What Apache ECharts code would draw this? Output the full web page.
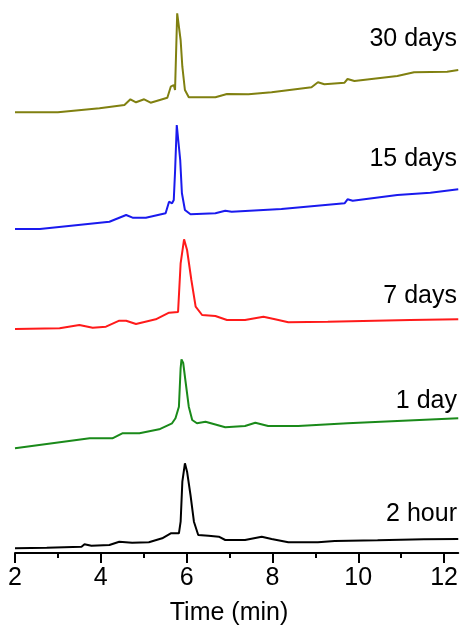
<!DOCTYPE html>
<html>
<head>
<meta charset="utf-8">
<script src="https://cdn.jsdelivr.net/npm/echarts@6/dist/echarts.min.js"></script>
<style>html,body{margin:0;padding:0;background:#fff}#c{width:461px;height:627px}</style>
</head>
<body>
<div id="c"></div>
<script>
// Series labels (bottom to top) and colours
var labels = ['2 hour', '1 day', '7 days', '15 days', '30 days'];
var colors = ['#000000', '#1a8a1a', '#ff1a1a', '#1a1aee', '#808010'];
// vertical stacking offsets (plot units)
var offsets = [4, 104, 224, 324, 440];

// 2 hour
var t2h = [2, 2.74, 3.55, 3.62, 3.78, 4.2, 4.43, 4.73, 5.12, 5.43, 5.63, 5.82, 5.86, 5.9, 5.96, 6.01, 6.09, 6.17, 6.27, 6.51, 6.75, 6.9, 7.36, 7.75, 7.98, 8.37, 9.06, 9.45, 10.45, 11.53, 12.33];
var y2h = [0.7, 1.3, 2.3, 4.7, 3.3, 4, 7.3, 6.3, 6.7, 10.7, 15.7, 15.7, 27.3, 67.3, 85.7, 77.3, 54, 27.3, 14, 13.3, 12.3, 9, 9, 12.3, 10, 6.7, 6.7, 8, 8.7, 9.7, 10];
// 1 day
var t1d = [2, 3.74, 4.27, 4.5, 4.9, 5.36, 5.66, 5.74, 5.78, 5.82, 5.86, 5.88, 5.92, 5.97, 6.05, 6.13, 6.24, 6.44, 6.9, 7.36, 7.6, 7.9, 8.6, 9.75, 10.91, 12.33];
var y1d = [0.7, 10.7, 10.7, 15.7, 15.7, 19.7, 25.7, 30.7, 32.3, 42.3, 81, 89.7, 86, 69, 42.3, 29, 25.7, 27.3, 21.7, 23, 26.3, 23, 23, 25.7, 28, 30.7];
// 7 days
var t7d = [2, 3.04, 3.5, 3.81, 4.12, 4.43, 4.59, 4.82, 5.28, 5.59, 5.8, 5.86, 5.94, 6.01, 6.11, 6.21, 6.36, 6.67, 6.94, 7.36, 7.79, 8.06, 8.37, 9.29, 11.21, 12.33];
var y7d = [0, 0.7, 4, 1.3, 2.3, 8.3, 8.3, 5, 9.7, 16.3, 17, 65.7, 89.7, 79, 49, 22.3, 14, 13, 9, 9, 12.3, 9.7, 6.7, 7.3, 9, 9.7];
// 15 days
var t15d = [2, 2.58, 4.2, 4.59, 4.74, 5.05, 5.51, 5.59, 5.66, 5.7, 5.73, 5.77, 5.8, 5.85, 5.89, 5.96, 6.09, 6.67, 6.9, 7.05, 8.21, 9.68, 9.75, 9.87, 10.91, 11.68, 12.33];
var y15d = [0, 0, 7.3, 14, 11.3, 11.3, 15.7, 27.3, 25.7, 29, 57.3, 104, 102.3, 69, 35.7, 19, 14.7, 15.7, 18.3, 17.3, 20, 25.7, 29.7, 28.3, 34, 36.3, 39.7];
// 30 days
var t30d = [2, 3.0, 3.97, 4.55, 4.69, 4.82, 5.01, 5.16, 5.55, 5.63, 5.7, 5.73, 5.78, 5.81, 5.86, 5.9, 5.96, 6.05, 6.67, 6.94, 7.44, 7.98, 8.91, 9.06, 9.21, 9.68, 9.75, 9.91, 10.91, 11.3, 12.07, 12.33];
var y30d = [0.7, 0.7, 4.7, 8, 13.7, 10.7, 13.7, 10.3, 15.3, 26.3, 28, 23, 99.7, 98, 73, 46.3, 23, 15.7, 15.7, 19, 18.7, 20.7, 25.7, 30.7, 28.7, 30.3, 34, 32, 37, 40.7, 41.3, 43];

var majorTicks = [2, 4, 6, 8, 10, 12];
var minorTicks = [3, 5, 7, 9, 11];

var times = [t2h, t1d, t7d, t15d, t30d];
var vals = [y2h, y1d, y7d, y15d, y30d];

var series = times.map(function (ts, i) {
  return {
    type: 'line',
    name: labels[i],
    showSymbol: false,
    symbol: 'none',
    lineStyle: { color: colors[i], width: 2 },
    itemStyle: { color: colors[i] },
    data: ts.map(function (t, j) { return [t, vals[i][j] + offsets[i]]; }),
    animation: false
  };
});

var FS = 25;
var labelY = [514, 401, 296, 159, 39];
var font = 'Liberation Sans, Arial, sans-serif';
var graphics = labels.map(function (l, i) {
  return {
    type: 'text', x: 457, y: labelY[i],
    style: { text: l, font: FS + 'px ' + font, fill: '#000', textAlign: 'right', textVerticalAlign: 'middle' }
  };
});
graphics.push({
  type: 'text', x: 229, y: 613,
  style: { text: 'Time (min)', font: FS + 'px ' + font, fill: '#000', textAlign: 'center', textVerticalAlign: 'middle' }
});

var chart = echarts.init(document.getElementById('c'), null, { renderer: 'canvas' });
chart.setOption({
  animation: false,
  backgroundColor: '#fff',
  grid: { left: 15, right: 0, top: 0, bottom: 74, containLabel: false },
  xAxis: [{
    type: 'value', min: 2, max: 12.33, interval: 2,
    axisLine: { show: true, lineStyle: { color: '#000', width: 2 } },
    axisTick: { show: true, inside: false, length: 10, lineStyle: { color: '#000', width: 2 }, customValues: majorTicks },
    axisLabel: { show: true, customValues: majorTicks, margin: 13, color: '#000', fontSize: FS, fontFamily: font, lineHeight: FS },
    splitLine: { show: false }
  }, {
    type: 'value', min: 2, max: 12.33, position: 'bottom',
    axisLine: { show: false },
    axisTick: { show: true, inside: false, length: 5, lineStyle: { color: '#000', width: 2 }, customValues: minorTicks },
    axisLabel: { show: false },
    splitLine: { show: false }
  }],
  yAxis: { type: 'value', min: 0, max: 553, show: false, splitLine: { show: false } },
  series: series,
  graphic: graphics
});
</script>
</body>
</html>
